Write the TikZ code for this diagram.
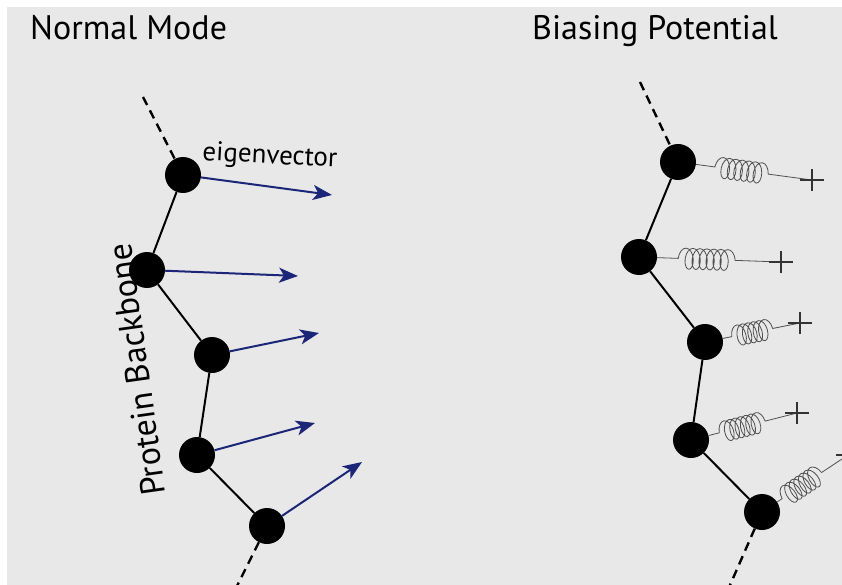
\documentclass[tikz,border=0pt]{standalone}
\usepackage{fontspec}
\setmainfont{PT Sans}
\usetikzlibrary{arrows.meta,decorations.pathmorphing}
\definecolor{bg}{RGB}{232,232,232}
\definecolor{navy}{RGB}{28,38,120}
\definecolor{springc}{RGB}{80,80,80}
\tikzset{
  atom/.style={circle,fill=black,minimum size=36pt,inner sep=0pt},
  bond/.style={line width=2pt,black},
  dbond/.style={line width=2.4pt,black,dash pattern=on 9pt off 6pt},
  evec/.style={line width=2pt,navy,-{Stealth[length=19pt,width=15pt,inset=5pt]}},
  spring/.style={springc,line width=0.8pt,decorate,
    decoration={coil,amplitude=10.5pt,segment length=5.5pt,aspect=0.55}},
  pluss/.style={black!80,line width=1.3pt},
  title/.style={font=\fontsize{34}{34}\selectfont,inner sep=0pt},
  lbl/.style={font=\fontsize{27}{27}\selectfont,inner sep=0pt}
}
\begin{document}
\begin{tikzpicture}[x=1pt,y=-1pt]
\useasboundingbox (0,0) rectangle (842,585);
\fill[white] (0,0) rectangle (842,585);
\fill[bg] (7,7) rectangle (842,585);
\clip (0,0) rectangle (842,585);
% titles
\node[title,anchor=base west] (t1) at (30,40) {Normal Mode};
\node[title,anchor=base west] (t2) at (532,40) {Biasing Potential};
% side label
\node[title,anchor=base west,rotate=98] (pb) at (166,494) {Protein Backbone};
% left chain
\node[atom] (A1) at (183,175) {};
\node[atom] (A2) at (147,270) {};
\node[atom] (A3) at (212,355) {};
\node[atom] (A4) at (197,455) {};
\node[atom] (A5) at (267,526) {};
\coordinate (dA0) at (143,97);
\coordinate (dA6) at (234,592);
\draw[dbond] (dA0) -- (A1);
\draw[dbond] (A5) -- (dA6);
\draw[bond] (A1) -- (A2) -- (A3) -- (A4) -- (A5);
% eigenvector arrows
\coordinate (e1) at (332,195);
\coordinate (e2) at (298,276);
\coordinate (e3) at (319,333);
\coordinate (e4) at (315,423);
\coordinate (e5) at (362,462);
\draw[evec] (A1) -- (e1);
\draw[evec] (A2) -- (e2);
\draw[evec] (A3) -- (e3);
\draw[evec] (A4) -- (e4);
\draw[evec] (A5) -- (e5);
\node[lbl,anchor=base west,rotate=-3] (ev) at (202,160) {eigenvector};
% right chain
\node[atom] (B1) at (678,162) {};
\node[atom] (B2) at (639,257) {};
\node[atom] (B3) at (705,342) {};
\node[atom] (B4) at (691,440) {};
\node[atom] (B5) at (762,512) {};
\coordinate (dB0) at (640,82);
\coordinate (dB6) at (727,592);
\draw[dbond] (dB0) -- (B1);
\draw[dbond] (B5) -- (dB6);
\draw[bond] (B1) -- (B2) -- (B3) -- (B4) -- (B5);
% springs and anchors
\coordinate (p1) at (812,180);
\coordinate (p2) at (781,262);
\coordinate (p3) at (800,323);
\coordinate (p4) at (797,413);
\coordinate (p5) at (848,455);
\draw[spring,decoration={pre length=19pt,post length=42pt,segment length=6.5pt}] (B1) -- (p1);
\draw[spring,decoration={pre length=21pt,post length=41pt,segment length=7pt}] (B2) -- (p2);
\draw[spring,decoration={pre length=9pt,post length=27pt}] (B3) -- (p3);
\draw[spring,decoration={pre length=11pt,post length=30pt}] (B4) -- (p4);
\draw[spring,decoration={pre length=6pt,post length=28pt}] (B5) -- (p5);
\foreach \p in {p1,p2,p3,p4,p5}{
  \draw[pluss] ([xshift=-12pt]\p) -- ([xshift=12pt]\p);
  \draw[pluss] ([yshift=-11pt]\p) -- ([yshift=11pt]\p);
}
\end{tikzpicture}
\end{document}
